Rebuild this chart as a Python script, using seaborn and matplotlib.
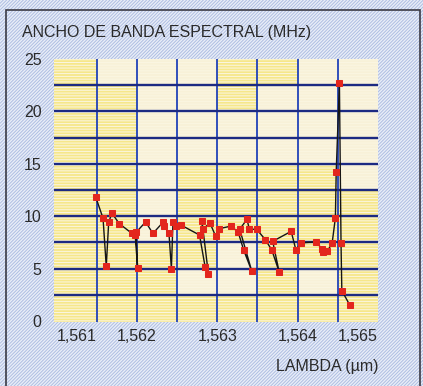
import matplotlib
matplotlib.use("Agg")
import numpy as np
import pandas as pd
import seaborn as sns
import matplotlib.pyplot as plt
from matplotlib.patches import Rectangle
from matplotlib.colors import ListedColormap

# ---- data (drawing order) ----
lambda_um = [1.56149, 1.56158, 1.56162, 1.56165, 1.56169, 1.56178, 1.56194, 1.56198,
             1.56201, 1.56199, 1.56211, 1.56220, 1.56233, 1.56234, 1.56240, 1.56243,
             1.56245, 1.56249, 1.56255, 1.56278, 1.56285, 1.56289, 1.56281, 1.56282,
             1.56291, 1.56298, 1.56302, 1.56317, 1.56326, 1.56333, 1.56343, 1.56328,
             1.56337, 1.56340, 1.56349, 1.56360, 1.56368, 1.56377, 1.56369, 1.56392,
             1.56398, 1.56404, 1.56423, 1.56430, 1.56432, 1.56437, 1.56443, 1.56447,
             1.56448, 1.56452, 1.56454, 1.56455, 1.56465]
ancho_mhz = [11.8, 9.8, 5.2, 9.4, 10.3, 9.3, 8.35, 8.2, 5.05, 8.45, 9.45, 8.35, 9.45,
             9.05, 8.35, 5.0, 9.45, 9.05, 9.15, 8.2, 5.15, 4.5, 9.55, 8.75, 9.35, 8.1,
             8.8, 9.05, 8.5, 6.75, 4.75, 8.75, 9.7, 8.75, 8.75, 7.75, 6.75, 4.7, 7.6,
             8.55, 6.75, 7.45, 7.55, 6.9, 6.6, 6.65, 7.45, 9.85, 14.2, 22.7, 7.45, 2.9, 1.5]

x_ticks = [1.561, 1.562, 1.563, 1.564, 1.565]
x_labels = ["1,561", "1,562", "1,563", "1,564", "1,565"]
y_ticks = [0, 5, 10, 15, 20, 25]
y_labels = ["0", "5", "10", "15", "20", "25"]
x_grid = [1.5615, 1.562, 1.5625, 1.563, 1.5635, 1.564, 1.5645]
y_grid = [2.5, 5, 7.5, 10, 12.5, 15, 17.5, 20, 22.5]

title = "ANCHO DE BANDA ESPECTRAL (MHz)"
xlabel = "LAMBDA (µm)"

df = pd.DataFrame({"lambda": lambda_um, "ancho": ancho_mhz})

# ---- style ----
sns.set_theme(style="white")
plt.rcParams["font.family"] = ["Liberation Sans", "DejaVu Sans"]
plt.rcParams["hatch.linewidth"] = 0.7

W, H = 423, 386
fig = plt.figure(figsize=(W / 100, H / 100), dpi=100)
fig.patch.set_facecolor("#e6ebf6")

# hatched outer background
bg = Rectangle((0, 0), 1, 1, transform=fig.transFigure, facecolor="#e9eef8",
               edgecolor="#aebee2", hatch="//////////", lw=0, zorder=-10)
fig.patches.append(bg)
# frame
frame = Rectangle((6 / W, -0.05), (420 - 6) / W, 1.05 - 10 / H, transform=fig.transFigure,
                  facecolor="none", edgecolor="#3a3a44", lw=1.2, zorder=-9)
fig.patches.append(frame)

xlim = (1.56097, 1.565)
ylim = (-0.1, 25)
ax = fig.add_axes([54 / W, 1 - 322 / H, 324 / W, 263 / H])

# plot area background: yellow / cream blocks with horizontal stripes
x_edges = [xlim[0]] + x_grid + [xlim[1]]
y_edges = [ylim[0]] + y_grid + [ylim[1]]
pattern = np.array([
    [1, 1, 1, 1, 1, 1, 1, 1],   # 0-2.5
    [1, 1, 1, 0, 0, 1, 0, 1],
    [1, 1, 1, 1, 0, 1, 1, 1],
    [1, 1, 0, 1, 1, 1, 1, 1],
    [1, 1, 0, 1, 1, 1, 1, 1],
    [1, 1, 0, 1, 1, 1, 1, 0],
    [1, 1, 0, 0, 0, 0, 0, 0],
    [1, 1, 0, 0, 0, 0, 0, 0],
    [1, 1, 0, 0, 1, 0, 0, 0],
    [1, 0, 0, 0, 1, 1, 0, 0],   # 22.5-25
])
ax.pcolormesh(x_edges, y_edges, pattern, cmap=ListedColormap(["#f8f1d8", "#f6e78a"]),
              vmin=0, vmax=1, zorder=0, shading="flat")
stripes = Rectangle((0, 0), 1, 1, transform=ax.transAxes, facecolor="none",
                    edgecolor="#fbf6e2", hatch="------", lw=0, zorder=0.5)
ax.add_patch(stripes)

# grid
ax.vlines(x_grid, ylim[0], ylim[1], color="#2142b8", lw=1.3, zorder=1)
ax.hlines(y_grid, xlim[0], xlim[1], color="#1c2a82", lw=1.7, zorder=1)

# data
sns.lineplot(data=df, x="lambda", y="ancho", sort=False, estimator=None, ax=ax,
             color="#151515", lw=1.0, marker="s", markersize=4.4,
             markerfacecolor="#e3261d", markeredgecolor="#e3261d", zorder=3)

ax.set_xlim(*xlim)
ax.set_ylim(*ylim)
for s in ax.spines.values():
    s.set_visible(False)
ax.set_xlabel("")
ax.set_ylabel("")
ax.set_xticks(x_ticks)
ax.set_xticklabels(x_labels)
ax.set_yticks(y_ticks)
ax.set_yticklabels(y_labels)
ax.tick_params(axis="both", length=0, labelsize=11.5, labelcolor="#2a2a2a")
ax.tick_params(axis="x", pad=5)
ax.tick_params(axis="y", pad=9)
xt = ax.get_xticklabels()
xt[0].set_ha("left")
xt[-1].set_ha("right")

fig.text(22 / W, 1 - 33 / H, title, ha="left", va="center", fontsize=11.5, color="#2a2a2a")
fig.text(378 / W, 1 - 367 / H, xlabel, ha="right", va="center", fontsize=11.5, color="#2a2a2a")

fig.savefig("out.png", dpi=100, facecolor=fig.get_facecolor())
